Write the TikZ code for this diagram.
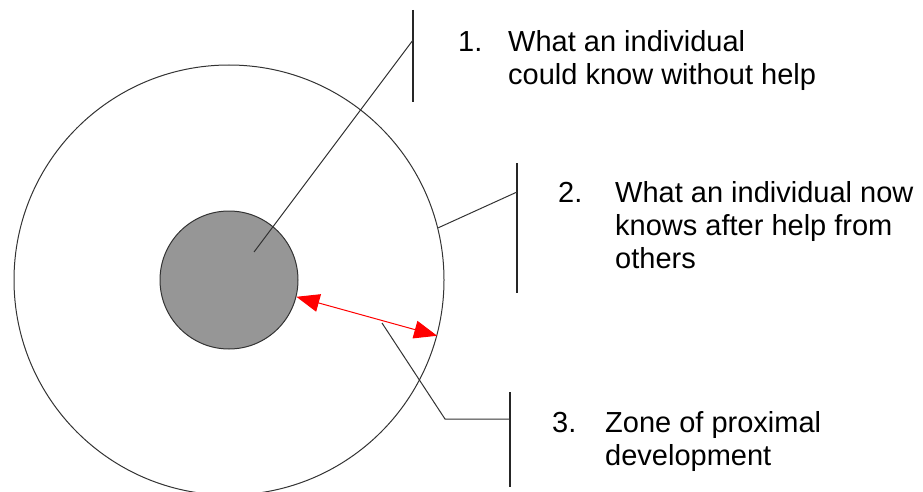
\documentclass[tikz,border=0pt]{standalone}
\usepackage{fontspec}
\setmainfont{Liberation Sans}
\usetikzlibrary{arrows.meta}

\definecolor{cinza}{RGB}{150,150,150}

\begin{document}
\begin{tikzpicture}[
  x=1pt, y=-1pt,
  circulo/.style={circle, draw=black!80, line width=1pt, inner sep=0pt},
  ligacao/.style={draw=black!80, line width=1pt},
  barra/.style={draw=black!85, line width=1.4pt},
  numero/.style={anchor=base west, inner sep=0pt, font=\fontsize{29}{33}\selectfont},
  legenda/.style={numero, align=left},
  seta/.style={{Triangle[length=23pt,width=18pt]}-{Triangle[length=23pt,width=18pt]}, draw=red, line width=1pt}
]
\useasboundingbox (0,0) rectangle (923,492);

% ---------------- Circulos ----------------
\node[circulo, minimum size=430pt] (externo) at (229,280) {};
\node[circulo, fill=cinza, minimum size=138pt] (interno) at (229,280) {};

% ---------------- Barras ----------------
\coordinate (b1a) at (413,10);  \coordinate (b1b) at (413,102);
\coordinate (b2a) at (517,163); \coordinate (b2b) at (517,293);
\coordinate (b3a) at (510,392); \coordinate (b3b) at (510,487);
\draw[barra] (b1a) -- (b1b);
\draw[barra] (b2a) -- (b2b);
\draw[barra] (b3a) -- (b3b);

% ---------------- Legendas (base = ultima linha) ----------------
\node[numero] (n1) at (458,52) {1.};
\node[legenda] (l1) at (508,85) {What an individual\\could know without help};
\node[numero] (n2) at (558,202) {2.};
\node[legenda] (l2) at (615,268) {What an individual now\\knows after help from\\others};
\node[numero] (n3) at (552,432) {3.};
\node[legenda] (l3) at (605,465) {Zone of proximal\\development};

% ---------------- Ligacoes ----------------
\coordinate (c1) at (254,252);
\coordinate (m1) at (413,40);
\coordinate (m2) at (517,192);
\coordinate (c3) at (382,323);
\coordinate (q3) at (445,419);
\coordinate (m3) at (510,419);
\draw[ligacao] (c1) -- (m1);
\draw[ligacao] (externo.14) -- (m2);
\draw[ligacao] (c3) -- (q3) -- (m3);

% ---------------- Seta ----------------
\draw[seta] (interno.-14) -- (externo.-15);

\end{tikzpicture}
\end{document}
